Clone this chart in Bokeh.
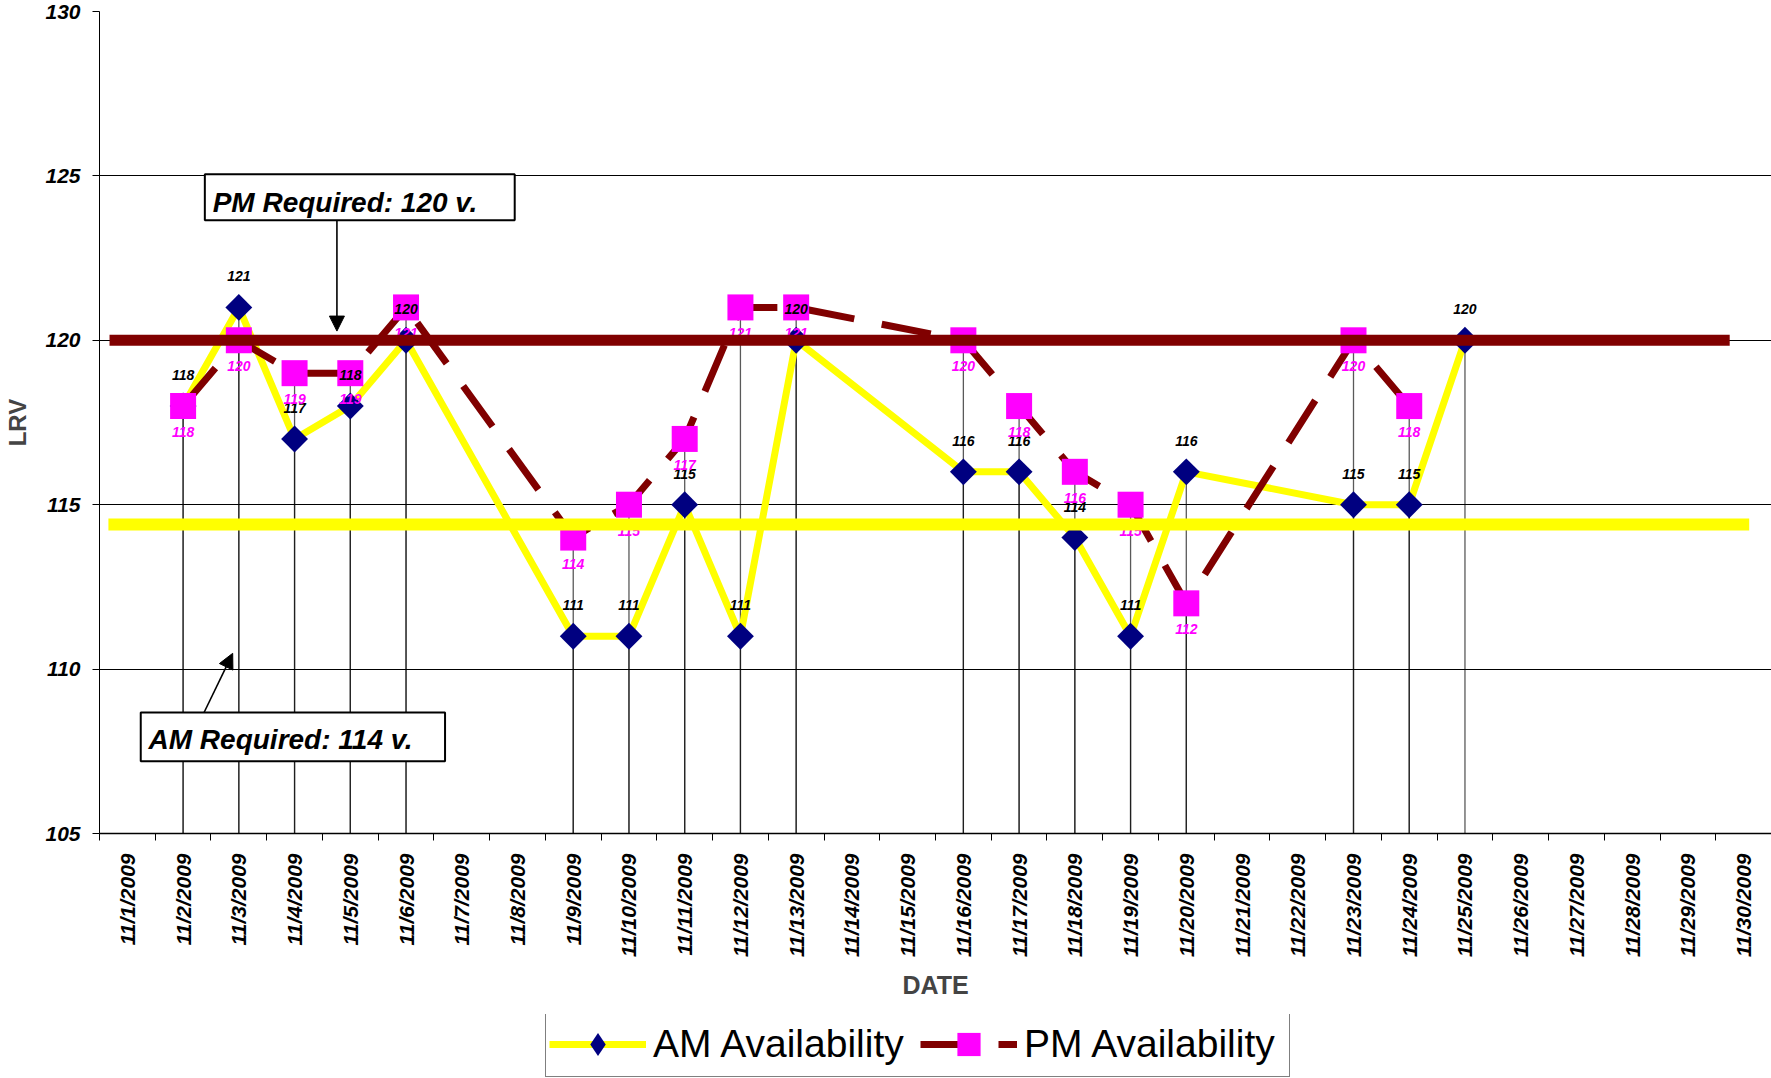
import math
from bokeh.plotting import figure
from bokeh.layouts import column
from bokeh.models import (FixedTicker, Legend, LegendItem, BoxAnnotation, Label, Arrow,
                          NormalHead, Range1d, CustomJSTickFormatter)
from bokeh.embed import file_html
from bokeh.resources import INLINE
from bokeh.core.properties import value

# ---------------- data ----------------
dates = ["11/1/2009", "11/2/2009", "11/3/2009", "11/4/2009", "11/5/2009", "11/6/2009",
         "11/7/2009", "11/8/2009", "11/9/2009", "11/10/2009", "11/11/2009", "11/12/2009",
         "11/13/2009", "11/14/2009", "11/15/2009", "11/16/2009", "11/17/2009", "11/18/2009",
         "11/19/2009", "11/20/2009", "11/21/2009", "11/22/2009", "11/23/2009", "11/24/2009",
         "11/25/2009", "11/26/2009", "11/27/2009", "11/28/2009", "11/29/2009", "11/30/2009"]
am_values = [None, 118, 121, 117, 118, 120, None, None, 111, 111, 115, 111, 120, None, None,
             116, 116, 114, 111, 116, None, None, 115, 115, 120, None, None, None, None, None]
pm_values = [None, 118, 120, 119, 119, 121, None, None, 114, 115, 117, 121, 121, None, None,
             120, 118, 116, 115, 112, None, None, 120, 118, None, None, None, None, None, None]
y_ticks = [105, 110, 115, 120, 125, 130]
pm_required = 120.0
am_required = 114.4
pm_text = "PM Required: 120 v."
am_text = "AM Required: 114 v."
series_names = ["AM Availability", "PM Availability"]

FONT = "Liberation Sans"
YELLOW = "#FFFF00"
NAVY = "#000080"
DARKRED = "#800000"
MAGENTA = "#FF00FF"

n = len(dates)
y_min, y_max = y_ticks[0], y_ticks[-1]

def pts(vals):
    xs, ys = [], []
    for i, v in enumerate(vals):
        if v is not None:
            xs.append(i + 0.5)
            ys.append(v)
    return xs, ys

am_x, am_y = pts(am_values)
pm_x, pm_y = pts(pm_values)

LEFT = 99
p = figure(width=1771, height=1014, x_range=Range1d(0, n), y_range=Range1d(y_min, y_max),
           output_backend="svg", toolbar_location=None,
           min_border_top=11, min_border_right=0, min_border_left=LEFT, min_border_bottom=181)
p.outline_line_color = None
p.background_fill_color = "white"
p.xgrid.visible = False
p.ygrid.ticker = FixedTicker(ticks=y_ticks)
p.ygrid.grid_line_color = "black"
p.ygrid.grid_line_width = 1

# y axis
p.yaxis.ticker = FixedTicker(ticks=y_ticks)
p.yaxis.axis_label = "LRV"
p.yaxis.axis_label_text_font = FONT
p.yaxis.axis_label_text_font_size = "24px"
p.yaxis.axis_label_text_font_style = "bold"
p.yaxis.axis_label_standoff = 11
p.yaxis.major_label_text_font = FONT
p.yaxis.major_label_text_font_size = "21px"
p.yaxis.major_label_text_font_style = "bold italic"
p.yaxis.major_label_text_color = "black"
p.yaxis.major_label_standoff = 12
p.yaxis.major_tick_out = 7
p.yaxis.major_tick_in = 0
p.yaxis.minor_tick_line_color = None
p.yaxis.axis_line_color = "black"
p.yaxis.major_tick_line_color = "black"

# x axis: labels at category centres, tick marks on category boundaries
centers = [i + 0.5 for i in range(n)]
p.xaxis.ticker = FixedTicker(ticks=centers, minor_ticks=list(range(n + 1)))
p.xaxis.formatter = CustomJSTickFormatter(args=dict(labels=dates), code="""
    const i = Math.round(tick - 0.5);
    return (i >= 0 && i < labels.length) ? labels[i] : "";
""")
p.xaxis.major_label_orientation = math.pi / 2
p.xaxis.major_label_text_font = FONT
p.xaxis.major_label_text_font_size = "21px"
p.xaxis.major_label_text_font_style = "bold italic"
p.xaxis.major_label_text_color = "black"
p.xaxis.major_label_standoff = 13
p.xaxis.major_tick_line_color = None
p.xaxis.major_tick_out = 0
p.xaxis.major_tick_in = 0
p.xaxis.minor_tick_line_color = "black"
p.xaxis.minor_tick_out = 7
p.xaxis.minor_tick_in = 0
p.xaxis.axis_line_color = "black"
p.xaxis.axis_line_width = 1.3
p.xaxis.axis_label = "DATE"
p.xaxis.axis_label_text_font = FONT
p.xaxis.axis_label_text_font_size = "25px"
p.xaxis.axis_label_text_font_style = "bold"
p.xaxis.axis_label_standoff = 11

# drop lines
p.segment(x0=am_x, y0=am_y, x1=am_x, y1=[y_min] * len(am_x), line_color="black",
          line_alpha=0.65, line_width=1.3)
p.segment(x0=pm_x, y0=pm_y, x1=pm_x, y1=[y_min] * len(pm_x), line_color="black",
          line_alpha=0.65, line_width=1.3)

# series
am_line = p.line(am_x, am_y, line_color=YELLOW, line_width=7, line_join="round")
am_markers = p.scatter(am_x, am_y, marker="square", angle=math.pi / 4, size=19,
                       fill_color=NAVY, line_color=None)
pm_line = p.line(pm_x, pm_y, line_color=DARKRED, line_width=7, line_dash="50 28")
pm_markers = p.scatter(pm_x, pm_y, marker="square", size=26, fill_color=MAGENTA,
                       line_color=None)

# data labels
p.text(am_x, am_y, text=[str(v) for v in am_y], text_color="black",
       text_font=value(FONT), text_font_size=value("14px"), text_font_style="bold italic",
       text_align="center", text_baseline="middle", y_offset=-31)
p.text(pm_x, pm_y, text=[str(v) for v in pm_y], text_color=MAGENTA,
       text_font=value(FONT), text_font_size=value("14px"), text_font_style="bold italic",
       text_align="center", text_baseline="middle", y_offset=26)

# requirement lines
p.segment(x0=[0.18], y0=[pm_required], x1=[29.25], y1=[pm_required],
          line_color=DARKRED, line_width=11)
p.segment(x0=[0.16], y0=[am_required], x1=[29.6], y1=[am_required],
          line_color=YELLOW, line_width=12)

# callout boxes
for (l, r, b, t, tx, ty, txt) in [(1.89, 7.45, 123.65, 125.05, 2.03, 124.18, pm_text),
                                  (0.74, 6.20, 107.20, 108.68, 0.88, 107.85, am_text)]:
    p.add_layout(BoxAnnotation(left=l, right=r, bottom=b, top=t, fill_color="white",
                               fill_alpha=1.0, line_color="black", line_width=2,
                               line_alpha=1.0))
    p.add_layout(Label(x=tx, y=ty, text=txt, text_font=FONT, text_font_size="28px",
                       text_font_style="bold italic", text_color="black",
                       text_align="left", text_baseline="alphabetic"))

p.add_layout(Arrow(end=NormalHead(size=15, fill_color="black", line_color="black"),
                   x_start=4.26, y_start=123.65, x_end=4.26, y_end=120.28,
                   line_color="black", line_width=1.6))
p.add_layout(Arrow(end=NormalHead(size=15, fill_color="black", line_color="black"),
                   x_start=1.876, y_start=108.68, x_end=2.39, y_end=110.48,
                   line_color="black", line_width=1.6))

# ---------------- legend strip (separate figure below the chart) ----------------
# its glyphs use the real series, but its ranges keep them out of view: only the
# legend entries are seen
q = figure(width=1771, height=64, output_backend="svg", toolbar_location=None,
           x_axis_type=None, y_axis_type=None, min_border=0,
           x_range=Range1d(-3, -2), y_range=Range1d(0, 1))
q.outline_line_color = None
q.grid.visible = False
lg_am_line = q.line(am_x, am_y, line_color=YELLOW, line_width=7)
lg_am_mark = q.scatter(am_x, am_y, marker="diamond", size=26, fill_color=NAVY, line_color=None)
lg_pm_line = q.line(pm_x, pm_y, line_color=DARKRED, line_width=7, line_dash="50 28")
lg_pm_mark = q.scatter(pm_x, pm_y, marker="square", size=26, fill_color=MAGENTA, line_color=None)

legend = Legend(items=[LegendItem(label=series_names[0], renderers=[lg_am_line, lg_am_mark]),
                       LegendItem(label=series_names[1], renderers=[lg_pm_line, lg_pm_mark])],
                orientation="horizontal", location=(545 - LEFT, 1),
                label_text_font=FONT, label_text_font_size="39px", label_text_color="black",
                glyph_width=97, glyph_height=58, label_standoff=7, spacing=5,
                label_width=262, padding=3, margin=0, border_line_color="black",
                border_line_width=1.5, background_fill_alpha=1.0)
q.add_layout(legend, "center")

layout = column(p, q, spacing=0)
open("out.html", "w").write(file_html(layout, INLINE))
